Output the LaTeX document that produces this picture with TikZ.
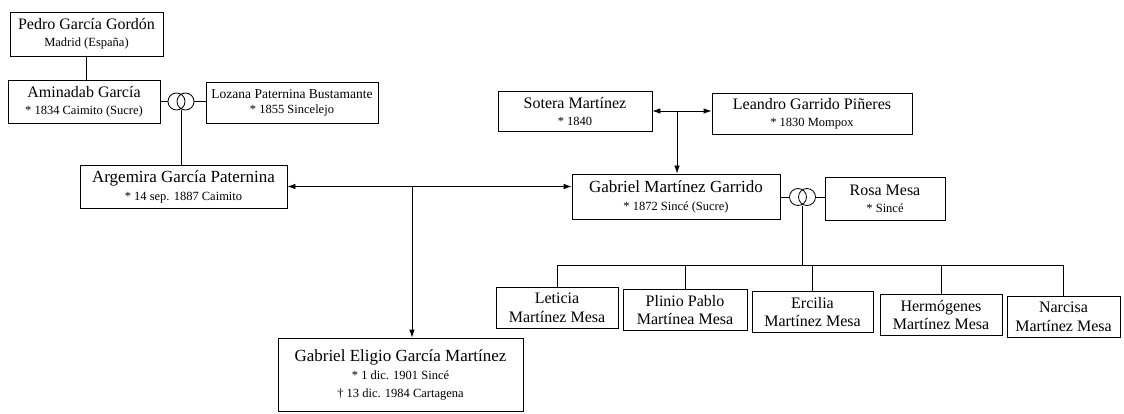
\documentclass[tikz,border=0pt]{standalone}
\usepackage{fontspec}
\setmainfont{Liberation Serif}
\usetikzlibrary{arrows.meta}
\newcommand{\subline}[1]{{\fontsize{12.5}{14}\selectfont #1}}
\tikzset{
  person/.style={draw, line width=0.8pt, inner sep=0pt, align=center, font=\fontsize{16}{17}\selectfont},
  bigname/.style={font=\fontsize{17}{18}\selectfont},
  child/.style={person, minimum height=41pt, font=\fontsize{16}{18.5}\selectfont},
  conn/.style={line width=0.8pt},
  arr/.style={line width=0.8pt, -{Latex[length=8pt,width=5.5pt]}},
  darr/.style={line width=0.8pt, {Latex[length=8pt,width=5.5pt]}-{Latex[length=8pt,width=5.5pt]}},
  rings/.style={inner sep=0pt, minimum width=26pt, minimum height=17pt},
}
\begin{document}
\begin{tikzpicture}[x=1pt,y=-1pt]
\useasboundingbox (0,0) rectangle (1124,414);
% left family
\node[person, minimum width=153pt, minimum height=44pt] (pedro) at (86.5,34) {Pedro García Gordón\\\subline{Madrid (España)}};
\node[person, minimum width=152pt, minimum height=43pt] (amin) at (84,101.5) {Aminadab García\\\subline{* 1834 Caimito (Sucre)}};
\node[rings] (r1) at (181,101.5) {};
\node[person, minimum width=172pt, minimum height=41pt, font=\fontsize{13.5}{15}\selectfont] (loz) at (292,102.5) {Lozana Paternina Bustamante\\\subline{* 1855 Sincelejo}};
\node[person, bigname, minimum width=207pt, minimum height=43pt] (arg) at (183.5,186.5) {Argemira García Paternina\\\subline{* 14 sep. 1887 Caimito}};
% right family
\node[person, minimum width=154pt, minimum height=40pt] (sot) at (575,111) {Sotera Martínez\\\subline{* 1840}};
\node[person, minimum width=200pt, minimum height=41pt] (lea) at (812,113.5) {Leandro Garrido Piñeres\\\subline{* 1830 Mompox}};
\node[person, bigname, minimum width=208pt, minimum height=45pt] (gmg) at (676,196.5) {Gabriel Martínez Garrido\\\subline{* 1872 Sincé (Sucre)}};
\node[rings] (r2) at (802.5,197) {};
\node[person, minimum width=120pt, minimum height=43pt] (rosa) at (885,198.5) {Rosa Mesa\\\subline{* Sincé}};
% child of Argemira and Gabriel
\node[person, bigname, minimum width=245pt, minimum height=73pt] (gel) at (400.5,374.5) {Gabriel Eligio García Martínez\\\subline{* 1 dic. 1901 Sincé}\\\subline{† 13 dic. 1984 Cartagena}};
% children of Gabriel and Rosa
\node[child, minimum width=122pt] (c1) at (557,308) {Leticia\\Martínez Mesa};
\node[child, minimum width=124pt] (c2) at (685,310) {Plinio Pablo\\Martínea Mesa};
\node[child, minimum width=121pt] (c3) at (812.5,312) {Ercilia\\Martínez Mesa};
\node[child, minimum width=122pt] (c4) at (941,315) {Hermógenes\\Martínez Mesa};
\node[child, minimum width=113pt] (c5) at (1063.5,317) {Narcisa\\Martínez Mesa};
% rings
\draw[conn] ([xshift=-4.5pt]r1.center) circle (8.5pt) ([xshift=4.5pt]r1.center) circle (8.5pt);
\draw[conn] ([xshift=-4.5pt]r2.center) circle (8.5pt) ([xshift=4.5pt]r2.center) circle (8.5pt);
% connectors
\draw[conn] (pedro.south) -- (pedro.south |- amin.north);
\draw[conn] (amin.east) -- (r1.west);
\draw[conn] (r1.east) -- (r1.east -| loz.west);
\draw[conn] (r1.south) -- (r1.south |- arg.north);
\draw[darr] (arg.east) -- (arg.east -| gmg.west);
\coordinate (j1) at (412,186.5);
\draw[arr] (j1) -- (j1 |- gel.north);
\draw[darr] (sot.east) -- (sot.east -| lea.west);
\coordinate (j2) at (677,111);
\draw[arr] (j2) -- (j2 |- gmg.north);
\draw[conn] (gmg.east |- r2.west) -- (r2.west);
\draw[conn] (r2.east) -- (r2.east -| rosa.west);
\coordinate (bus) at (802.5,265);
\draw[conn] (r2.south) -- (bus);
\draw[conn] (c1.north |- bus) -- (c5.north |- bus);
\foreach \c in {c1,c2,c3,c4,c5} \draw[conn] (\c.north |- bus) -- (\c.north);
\end{tikzpicture}
\end{document}
